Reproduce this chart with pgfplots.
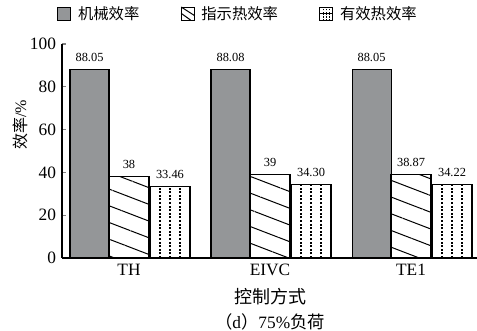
\documentclass[border=0pt]{standalone}
\usepackage{pgfplots}
\pgfplotsset{compat=1.18}
\usepackage{pgfplotstable}
\usetikzlibrary{patterns.meta}
\usepackage{fontspec}
\setmainfont{Liberation Serif}
\newfontfamily\cjk{Noto Sans CJK SC}

\definecolor{barGray}{RGB}{148,150,152}

% efficiency values per control strategy (TH, EIVC, TE1)
\pgfplotstableread{
x y label
0 88.05 88.05
1 88.08 88.08
2 88.05 88.05
}\mechTable
\pgfplotstableread{
x y label
0 38 38
1 39 39
2 38.87 38.87
}\indTable
\pgfplotstableread{
x y label
0 33.46 33.46
1 34.30 34.30
2 34.22 34.22
}\effTable

\begin{document}
\begin{tikzpicture}
\useasboundingbox (-46.5pt,-54.75pt) rectangle (311.25pt,193.5pt);
\begin{axis}[
  scale only axis,
  width=311.25pt, height=160.5pt,
  xmin=-0.475, xmax=2.468,
  ymin=0, ymax=100,
  axis x line*=bottom, axis y line*=left,
  axis line style={line width=0.8pt},
  ytick={0,20,40,60,80,100},
  ytick style={line width=0.8pt},
  tick align=inside,
  major tick length=3pt,
  xtick={0,1,2},
  xticklabels={TH,EIVC,TE1},
  xtick style={draw=none},
  tick label style={font=\fontsize{13}{15}\selectfont},
  /pgf/number format/assume math mode=true,
  yticklabel style={xshift=-1pt},
  xticklabel style={yshift=-1pt},
  clip=false,
  legend columns=3,
  legend style={at={(0.425,1.14)}, anchor=center, draw=none,
    font=\fontsize{11.5}{13}\selectfont\cjk,
    /tikz/every odd column/.append style={column sep=3pt},
    /tikz/every even column/.append style={column sep=29pt}},
  legend image code/.code={\draw[#1,line width=0.75pt] (0pt,-4.5pt) rectangle (9.75pt,5.25pt);},
  every node near coord/.append style={font=\fontsize{9.3}{11}\selectfont, yshift=2pt},
]
\addplot[ybar, bar width=29.25pt, bar shift=-29.6pt, fill=barGray, draw=black, line width=0.8pt,
  nodes near coords, point meta=explicit symbolic,
  every node near coord/.append style={xshift=-29.6pt}]
  table[x=x, y=y, meta=label]{\mechTable};
\addlegendentry{机械效率}
\addplot[ybar, bar width=30pt, bar shift=0pt, draw=black, line width=0.8pt,
  pattern={Lines[angle=-21,distance=11.7pt,line width=0.75pt]}, pattern color=black,
  nodes near coords, point meta=explicit symbolic,
  legend image code/.code={\draw[fill=white,line width=0.75pt] (0pt,-4.5pt) rectangle (9.75pt,5.25pt);
    \draw[line width=0.75pt] (0pt,5.25pt) -- (9.75pt,-1pt); \draw[line width=0.75pt] (0pt,0.5pt) -- (7pt,-4.5pt);}]
  table[x=x, y=y, meta=label]{\indTable};
\addlegendentry{指示热效率}
\addplot[ybar, bar width=30pt, bar shift=30.75pt, fill=white, draw=black, line width=0.8pt,
  nodes near coords, point meta=explicit symbolic,
  every node near coord/.append style={xshift=30.75pt},
  legend image code/.code={\draw[fill=white,line width=0.75pt] (0pt,-4.5pt) rectangle (9.75pt,5.25pt);
    \foreach \xx in {2.4,4.9,7.3} {\draw[line width=0.6pt,dash pattern=on 1pt off 0.8pt] (\xx pt,-4.5pt) -- (\xx pt,5.25pt);}
    \draw[line width=0.5pt] (0pt,0.4pt) -- (9.75pt,0.4pt);}]
  table[x=x, y=y, meta=label]{\effTable};
\addlegendentry{有效热效率}
% dotted fill lines inside the effective-efficiency bars
\addplot[ycomb, forget plot, no marks, black, line width=0.8pt, dash pattern=on 1.5pt off 1.2pt]
  table[x expr=\thisrow{x}+0.2199, y=y]{\effTable};
\addplot[ycomb, forget plot, no marks, black, line width=0.8pt, dash pattern=on 1.5pt off 1.2pt]
  table[x expr=\thisrow{x}+0.2908, y=y]{\effTable};
\addplot[ycomb, forget plot, no marks, black, line width=0.8pt, dash pattern=on 1.5pt off 1.2pt]
  table[x expr=\thisrow{x}+0.3617, y=y]{\effTable};
\end{axis}
\node[rotate=90, font=\fontsize{12}{14}\selectfont] at (-31.5pt,99.75pt) {{\cjk 效率}/\%};
\node[font=\fontsize{13.5}{15}\selectfont\cjk] at (156pt,-29.25pt) {控制方式};
\node[font=\fontsize{13}{15}\selectfont] at (156pt,-48pt) {{\cjk （}d{\cjk ）}75\%{\cjk 负荷}};
\end{tikzpicture}
\end{document}
